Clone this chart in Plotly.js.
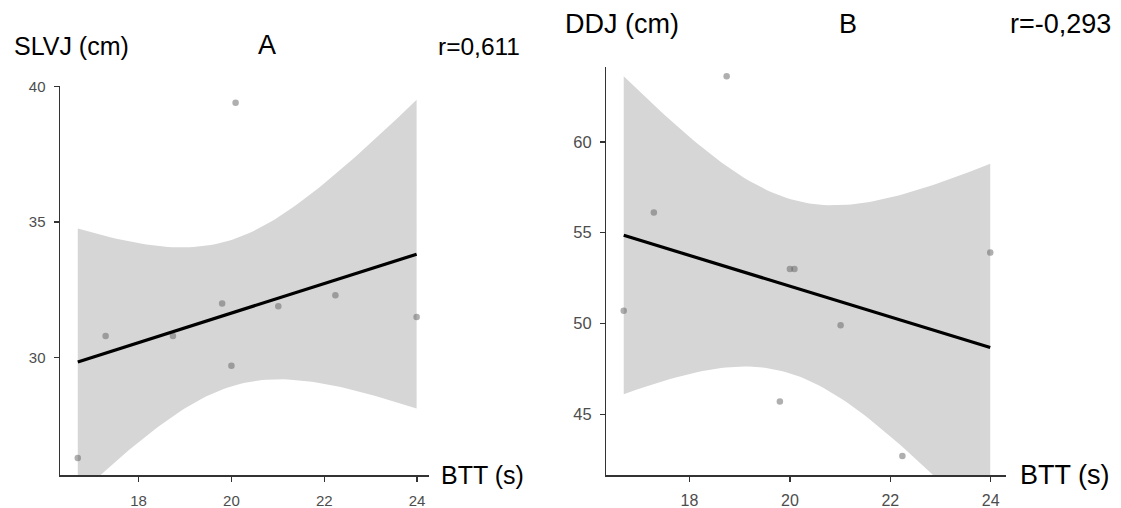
<!DOCTYPE html>
<html>
<head>
<meta charset="utf-8">
<script src="https://cdn.plot.ly/plotly-3.0.1.min.js"></script>
<style>html,body{margin:0;padding:0;background:#fff;}#chart{width:1121px;height:508px;}</style>
</head>
<body>
<div id="chart"></div>
<script>
// ---- data ----
const btt  = [16.69, 17.29, 18.74, 19.8, 20.0, 20.09, 21.01, 22.24, 23.99];
const slvj = [26.3, 30.8, 30.8, 32.0, 29.7, 39.4, 31.9, 32.3, 31.5];
const ddj  = [50.7, 56.1, 63.6, 45.7, 53.0, 53.0, 49.9, 42.7, 53.9];
const xTickVals  = [18, 20, 22, 24];
const yTickValsA = [30, 35, 40];
const yTickValsB = [45, 50, 55, 60];
const yLabelA = "SLVJ (cm)";
const yLabelB = "DDJ (cm)";
const xLabel  = "BTT (s)";
const panelA = "A", panelB = "B";
const rA = "r=0,611", rB = "r=-0,293";

// ---- linear model fit with 95% confidence band (like geom_smooth(method="lm")) ----
function lmFit(x, y) {
  const n = x.length;
  const mx = x.reduce((a, b) => a + b, 0) / n;
  const my = y.reduce((a, b) => a + b, 0) / n;
  let sxx = 0, sxy = 0, syy = 0;
  for (let i = 0; i < n; i++) {
    sxx += (x[i] - mx) ** 2;
    sxy += (x[i] - mx) * (y[i] - my);
    syy += (y[i] - my) ** 2;
  }
  const b = sxy / sxx, a = my - b * mx;
  const s = Math.sqrt((syy - sxy * sxy / sxx) / (n - 2));
  const t = 2.364624; // t(0.975, df = 7)
  const lo = Math.min(...x), hi = Math.max(...x);
  const gx = [], up = [], dn = [];
  const N = 80;
  for (let k = 0; k < N; k++) {
    const xv = lo + (hi - lo) * k / (N - 1);
    const f = a + b * xv;
    const se = s * Math.sqrt(1 / n + (xv - mx) ** 2 / sxx);
    gx.push(xv); up.push(f + t * se); dn.push(f - t * se);
  }
  return {
    polyX: gx.concat(gx.slice().reverse()),
    polyY: up.concat(dn.slice().reverse()),
    lineX: [lo, hi],
    lineY: [a + b * lo, a + b * hi]
  };
}

const fA = lmFit(btt, slvj);
const fB = lmFit(btt, ddj);

const ptColor = "rgba(95,95,95,0.5)";
function traces(f, y, xa, ya) {
  return [
    {x: f.polyX, y: f.polyY, xaxis: xa, yaxis: ya, type: "scatter", mode: "lines",
     fill: "toself", fillcolor: "#d6d6d6", line: {width: 0}, hoverinfo: "skip"},
    {x: btt, y: y, xaxis: xa, yaxis: ya, type: "scatter", mode: "markers",
     marker: {size: 6.5, color: ptColor}, cliponaxis: false},
    {x: f.lineX, y: f.lineY, xaxis: xa, yaxis: ya, type: "scatter", mode: "lines",
     line: {color: "#000", width: 3.2}}
  ];
}

const data = traces(fA, slvj, "x", "y").concat(traces(fB, ddj, "x2", "y2"));

const W = 1121, H = 508;
const px = v => v / W, py = v => 1 - v / H;
const font = "Liberation Sans, Arial, sans-serif";

function axisBase(extra, tsize) {
  return Object.assign({
    showline: true, linecolor: "#333", linewidth: 1.5,
    ticks: "outside", ticklen: 5, tickwidth: 1.5, tickcolor: "#333",
    showgrid: false, zeroline: false, tickmode: "array",
    tickfont: {family: font, color: "#4d4d4d", size: tsize},
    fixedrange: true
  }, extra);
}

function ann(text, x, y, size, xanchor) {
  return {text: text, x: px(x), y: py(y), xref: "paper", yref: "paper",
          xanchor: xanchor, yanchor: "middle", showarrow: false,
          font: {family: font, size: size, color: "#000"}};
}

const layout = {
  width: W, height: H,
  margin: {l: 0, r: 0, t: 0, b: 0},
  paper_bgcolor: "#fff", plot_bgcolor: "rgba(0,0,0,0)",
  showlegend: false,
  xaxis: axisBase({domain: [px(60), px(428.6)], range: [16.307, 24.248], tickvals: xTickVals,
                   anchor: "y", ticklabelstandoff: 6}, 15),
  yaxis: axisBase({domain: [py(475), py(85.5)], range: [25.67, 40.04], tickvals: yTickValsA,
                   anchor: "x", ticklabelstandoff: 5}, 15),
  xaxis2: axisBase({domain: [px(606.4), px(1006.4)], range: [16.345, 24.312], tickvals: xTickVals,
                    anchor: "y2", ticklabelstandoff: 5}, 16),
  yaxis2: axisBase({domain: [py(475), py(66.7)], range: [41.66, 64.13], tickvals: yTickValsB,
                    anchor: "x2", ticklabelstandoff: 5}, 16.5),
  annotations: [
    ann(yLabelA, 12, 46, 25, "left"),
    ann(panelA, 267, 45, 27, "center"),
    ann(rA, 522, 46, 24.5, "right"),
    ann(xLabel, 439, 475, 25, "left"),
    ann(yLabelB, 563, 24, 27, "left"),
    ann(panelB, 847.5, 24, 27, "center"),
    ann(rB, 1113, 24, 27, "right"),
    ann(xLabel, 1018, 475, 27, "left")
  ]
};

Plotly.newPlot("chart", data, layout, {displayModeBar: false, staticPlot: true});
</script>
</body>
</html>
